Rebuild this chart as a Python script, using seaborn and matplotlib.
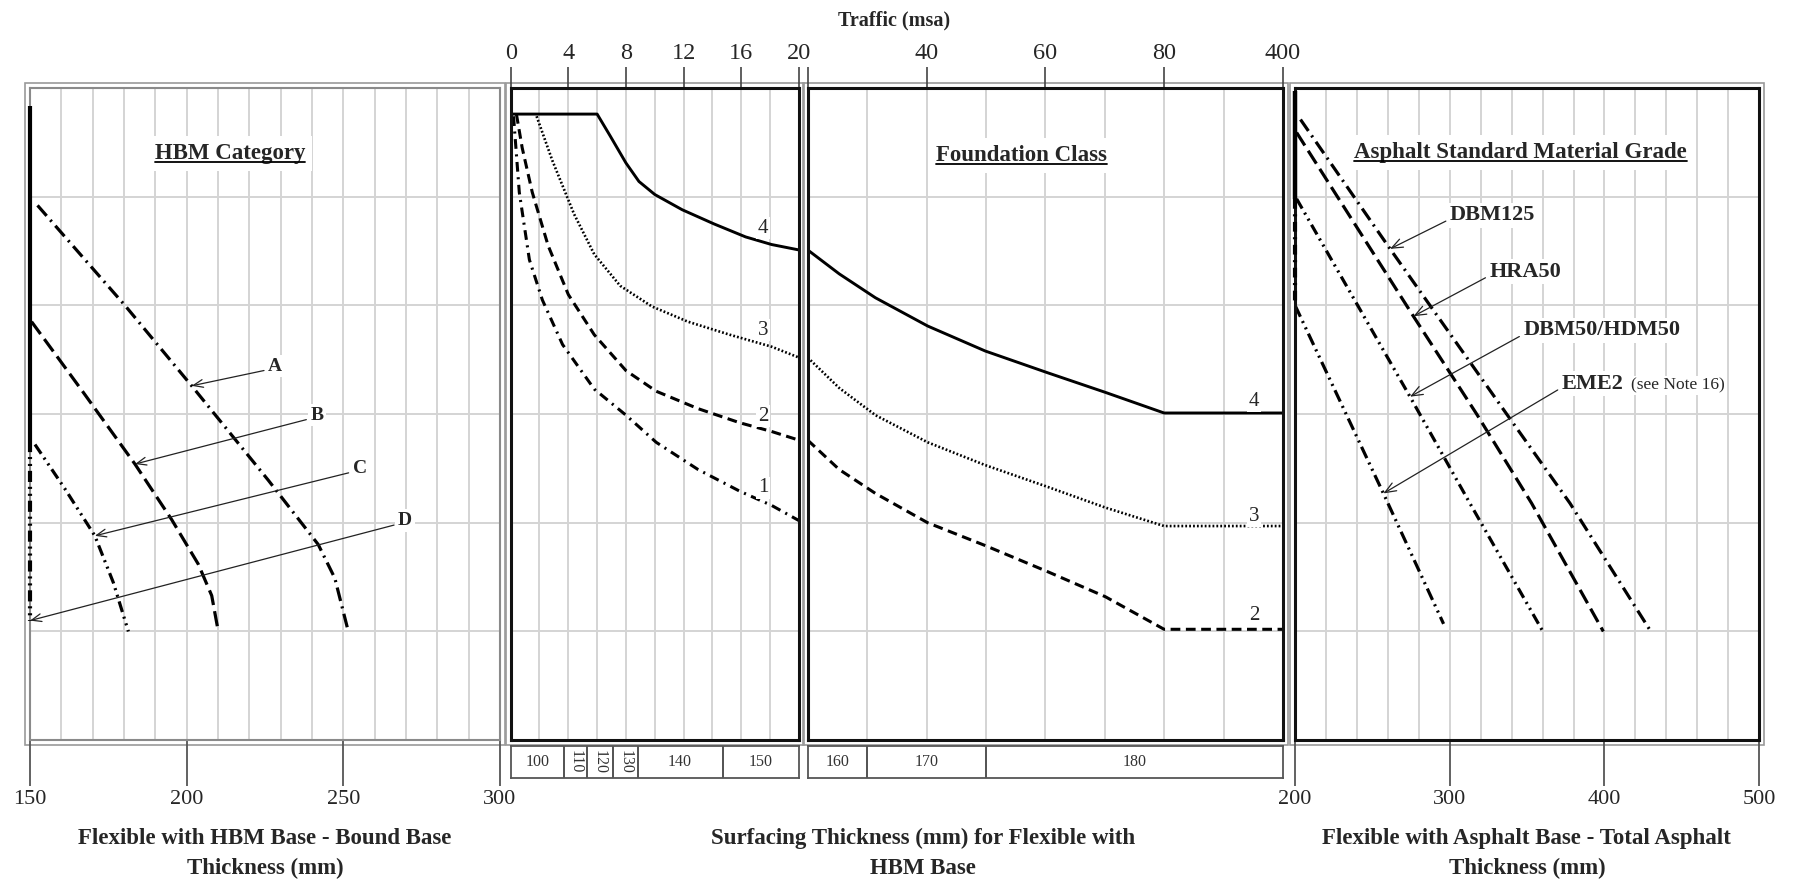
import numpy as np
import matplotlib
matplotlib.use("Agg")
import matplotlib.pyplot as plt
import seaborn as sns
from matplotlib.patches import Rectangle
from matplotlib.lines import Line2D
import matplotlib.transforms as mtransforms

# ---------------- data ----------------
# Panel 1 - Flexible with HBM base: bound base thickness (mm) against chart level
hbm_a_mm = [152.4, 180.3, 201.6, 226.1, 242.0, 247.3, 251.6]
hbm_a_lv = [4.92, 4.00, 3.26, 2.39, 1.80, 1.49, 1.00]
hbm_b_mm = [150.5, 166.5, 183.5, 195.2, 203.7, 208.0, 210.1]
hbm_b_lv = [3.85, 3.22, 2.54, 2.03, 1.62, 1.33, 1.00]
hbm_c_mm = [151.6, 161.2, 170.7, 176.6, 181.4]
hbm_c_lv = [2.72, 2.31, 1.88, 1.45, 1.00]
hbm_min_mm = [150.0, 150.0]
hbm_min_solid_lv = [5.83, 2.75]
hbm_min_dash_lv = [2.75, 1.10]
hbm_labels = ["A", "B", "C", "D"]
hbm_label_mm = [226.0, 239.5, 253.0, 267.5]
hbm_label_lv = [3.44, 2.99, 2.50, 2.02]
hbm_tip_mm = [201.6, 183.5, 170.7, 150.0]
hbm_tip_lv = [3.26, 2.54, 1.88, 1.10]

# Panels 2/3 - foundation classes: traffic (msa) against chart level
fc4_t = [0.0, 6.0, 6.9, 8.0, 8.9, 10.0, 11.9, 14.1, 16.3, 18.1, 20.0,
         25.3, 31.4, 40.2, 49.9, 60.4, 70.1, 80.0, 400.0]
fc4_lv = [5.76, 5.76, 5.56, 5.31, 5.14, 5.02, 4.88, 4.75, 4.63, 4.56, 4.51,
          4.29, 4.07, 3.81, 3.58, 3.38, 3.20, 3.01, 3.01]
fc3_t = [1.8, 2.9, 4.4, 5.8, 7.6, 9.8, 12.3, 15.2, 18.1, 20.0,
         25.3, 31.4, 40.2, 49.9, 60.4, 70.1, 80.0, 400.0]
fc3_lv = [5.74, 5.33, 4.84, 4.47, 4.18, 3.99, 3.85, 3.73, 3.62, 3.52,
          3.24, 2.99, 2.74, 2.53, 2.33, 2.14, 1.97, 1.97]
fc2_t = [0.4, 0.8, 1.5, 2.6, 4.0, 5.8, 8.0, 10.1, 13.0, 15.9, 18.1, 20.0,
         25.3, 31.4, 40.2, 49.9, 60.4, 70.1, 80.0, 400.0]
fc2_lv = [5.76, 5.45, 5.04, 4.55, 4.10, 3.73, 3.40, 3.21, 3.05, 2.92, 2.84, 2.76,
          2.49, 2.27, 2.00, 1.79, 1.55, 1.32, 1.02, 1.02]
fc1_t = [0.2, 0.6, 1.3, 2.2, 3.6, 5.8, 8.0, 10.1, 13.0, 15.9, 18.1, 20.0]
fc1_lv = [5.74, 5.04, 4.42, 4.05, 3.64, 3.23, 2.99, 2.74, 2.49, 2.29, 2.16, 2.02]
fc_names = ["1", "2", "3", "4"]
fc_name_lv_low = [2.32, 2.98, 3.77, 4.71]
fc_name_lv_high = [None, 1.15, 2.06, 3.12]

# surfacing thickness bands (traffic boundaries, msa)
surf_bounds_lo = [0.0, 3.7, 5.3, 7.1, 8.8, 14.7, 20.0]
surf_labels_lo = ["100", "110", "120", "130", "140", "150"]
surf_bounds_hi = [20.0, 30.0, 50.0, 400.0]
surf_labels_hi = ["160", "170", "180"]

# Panel 4 - Flexible with asphalt base: total asphalt thickness (mm)
dbm125_mm = [203.5, 261.4, 336.8, 377.7, 430.0]
dbm125_lv = [5.71, 4.52, 3.00, 2.18, 1.00]
hra50_mm = [201.0, 276.5, 317.4, 352.9, 399.3]
hra50_lv = [5.59, 3.90, 3.00, 2.18, 1.00]
dbm50_mm = [201.0, 274.3, 313.0, 360.2]
dbm50_lv = [4.98, 3.16, 2.18, 1.00]
eme2_mm = [200.0, 257.1, 296.0]
eme2_lv = [4.00, 2.27, 1.07]
asp_min_mm = [200.0, 200.0]
asp_min_solid_lv = [5.97, 4.98]
asp_min_dash_lv = [4.98, 4.00]
asp_labels = ["DBM125", "HRA50", "DBM50/HDM50", "EME2"]
asp_label_mm = [300.0, 325.6, 347.5, 372.3]
asp_label_lv = [4.83, 4.31, 3.77, 3.28]
asp_tip_mm = [261.4, 276.5, 274.3, 257.1]
asp_tip_lv = [4.52, 3.90, 3.16, 2.27]
asp_note = "(see Note 16)"

hbm_ticks = [150, 200, 250, 300]
asp_ticks = [200, 300, 400, 500]
traffic_ticks_lo = [0, 4, 8, 12, 16, 20]
traffic_ticks_hi = [20, 40, 60, 80, 400]
traffic_grid_hi = [30, 40, 50, 60, 70, 80, 179]
levels = [1, 2, 3, 4, 5]

# ---------------- style ----------------
sns.set_theme(style="white")
plt.rcParams["font.family"] = ["Liberation Serif", "DejaVu Serif"]
plt.rcParams["lines.scale_dashes"] = False

GRID = "#d4d4d4"
SOLID = "-"
DOTTED = (0, (1.3, 1.5))
DASHED = (0, (7, 4))
DASHDOT = (0, (7, 4, 1.5, 4))
LONGDASHDOT = (0, (10, 4, 1.5, 4))
LONGDASH = (0, (11, 4.5))
DASHDOTDOT = (0, (8, 3.5, 1.5, 3.5, 1.5, 3.5))


def fwd(t):
    t = np.asarray(t, dtype=float)
    with np.errstate(divide="ignore", invalid="ignore"):
        hi = 6 + 2 * np.log(np.clip(t, 1e-9, None) / 80.0) / np.log(5.0)
    return np.where(t <= 80, (t - 20) / 10.0, hi)


def inv(p):
    p = np.asarray(p, dtype=float)
    with np.errstate(over="ignore"):
        hi = 80.0 * np.power(5.0, np.clip((p - 6) / 2.0, -50, 50))
    return np.where(p <= 6, 20 + 10 * p, hi)


def draw(ax, x, y, ls, lw=2.0, clip=True):
    sns.lineplot(x=list(x), y=list(y), ax=ax, color="black", linewidth=lw,
                 estimator=None, sort=False, legend=False)
    ln = ax.lines[-1]
    ln.set_linestyle(ls)
    ln.set_dash_capstyle("butt")
    ln.set_solid_capstyle("butt")
    ln.set_clip_on(clip)
    if not clip:
        ln.set_zorder(3)


fig = plt.figure(figsize=(17.93, 8.80), dpi=100)
Y0, YH = 0.1589, 0.7411
ax1 = fig.add_axes([0.01673, Y0, 0.2621, YH])
ax2 = fig.add_axes([0.2848, Y0, 0.1608, YH])
ax3 = fig.add_axes([0.4505, Y0, 0.2650, YH])
ax4 = fig.add_axes([0.7223, Y0, 0.2588, YH])
ax3.set_xscale("function", functions=(fwd, inv))

W, H = fig.get_size_inches() * fig.dpi


def outer_frame(ax, pad=5, color="#9a9a9a", lw=1.2):
    bb = ax.get_position()
    px, py = pad / W, pad / H
    fig.add_artist(Rectangle((bb.x0 - px, bb.y0 - py), bb.width + 2 * px,
                             bb.height + 2 * py, transform=fig.transFigure,
                             fill=False, ec=color, lw=lw, zorder=0))


def base_axis(ax, xlim, vgrid, spine_color, spine_lw):
    ax.set_xlim(*xlim)
    ax.set_ylim(0, 6)
    ax.set_yticks([])
    for v in vgrid:
        ax.axvline(v, color=GRID, lw=1.4, zorder=0)
    for h in levels:
        ax.axhline(h, color=GRID, lw=1.4, zorder=0)
    for s in ax.spines.values():
        s.set_visible(True)
        s.set_color(spine_color)
        s.set_linewidth(spine_lw)
    ax.set_xlabel("")
    ax.set_ylabel("")


base_axis(ax1, (150, 300), np.arange(160, 300, 10), "#8a8a8a", 1.5)
base_axis(ax2, (0, 20), np.arange(2, 20, 2), "#111111", 2.2)
base_axis(ax3, (20, 400), traffic_grid_hi, "#111111", 2.2)
base_axis(ax4, (200, 500), np.arange(220, 500, 20), "#111111", 2.2)
for a in (ax1, ax2, ax3, ax4):
    outer_frame(a)

arrow_kw = dict(arrowstyle="->,head_length=0.5,head_width=0.2", lw=0.9,
                color="#222222", shrinkA=1, shrinkB=0, relpos=(0, 0.3))

# ---- panel 1 ----
draw(ax1, hbm_min_mm, hbm_min_solid_lv, SOLID, 3.0, clip=False)
draw(ax1, hbm_min_mm, hbm_min_dash_lv, DASHDOTDOT, 3.0, clip=False)
draw(ax1, hbm_a_mm, hbm_a_lv, LONGDASHDOT, 2.3)
draw(ax1, hbm_b_mm, hbm_b_lv, LONGDASH, 2.3)
draw(ax1, hbm_c_mm, hbm_c_lv, DASHDOTDOT, 2.3)
for lab, lx, ly, tx, ty in zip(hbm_labels, hbm_label_mm, hbm_label_lv, hbm_tip_mm, hbm_tip_lv):
    ax1.annotate(lab, xy=(tx, ty), xytext=(lx, ly), ha="left", va="center",
                 fontsize=14, fontweight="bold", arrowprops=arrow_kw,
                 bbox=dict(fc="white", ec="none", pad=2))
t1 = ax1.text(213.8, 5.40, "HBM Category", ha="center", va="center", fontsize=16.5,
              fontweight="bold", bbox=dict(fc="white", ec="none", pad=5), zorder=5)
ax1.set_xticks(hbm_ticks)
ax1.set_xticklabels([str(v) for v in hbm_ticks])
ax1.tick_params(axis="x", bottom=True, top=False, direction="out", length=33,
                width=1.3, color="#555555", labelsize=16, pad=3)

# ---- panels 2 and 3 ----
fc_series = [(fc1_t, fc1_lv, DASHDOT, 2.2), (fc2_t, fc2_lv, DASHED, 2.2),
             (fc3_t, fc3_lv, DOTTED, 1.9), (fc4_t, fc4_lv, SOLID, 2.1)]
for t, lv, ls, lw in fc_series:
    t = np.asarray(t)
    lv = np.asarray(lv)
    lo = t <= 20
    hi = t >= 20
    draw(ax2, t[lo], lv[lo], ls, lw)
    if hi.sum() >= 2:
        draw(ax3, t[hi], lv[hi], ls, lw)
for name, ylo, yhi in zip(fc_names, fc_name_lv_low, fc_name_lv_high):
    ax2.text(17.5, ylo, name, ha="center", va="center", fontsize=15,
             bbox=dict(fc="white", ec="none", pad=1))
    if yhi is not None:
        ax3.text(270, yhi, name, ha="center", va="center", fontsize=15,
                 bbox=dict(fc="white", ec="none", pad=1))
t3 = ax3.text(float(inv(3.6)), 5.38, "Foundation Class", ha="center", va="center",
              fontsize=16.5, fontweight="bold",
              bbox=dict(fc="white", ec="none", pad=5), zorder=5)

for a, ticks, labels in ((ax2, traffic_ticks_lo, [str(v) for v in traffic_ticks_lo]),
                         (ax3, traffic_ticks_hi, [""] + [str(v) for v in traffic_ticks_hi[1:]])):
    a.xaxis.set_ticks_position("top")
    a.set_xticks(ticks)
    a.set_xticklabels(labels)
    a.tick_params(axis="x", top=True, bottom=False, labeltop=True, labelbottom=False,
                  direction="out", length=15, width=1.2, color="#444444",
                  labelsize=17.5, pad=2)
    a.minorticks_off()

# surfacing thickness table
tab2 = fig.add_axes([0.2848, 0.1159, 0.1608, 0.0364])
tab3 = fig.add_axes([0.4505, 0.1159, 0.2650, 0.0364])
tab3.set_xscale("function", functions=(fwd, inv))
for tab, bounds, labels in ((tab2, surf_bounds_lo, surf_labels_lo),
                            (tab3, surf_bounds_hi, surf_labels_hi)):
    tab.set_xlim(bounds[0], bounds[-1])
    tab.set_ylim(0, 1)
    tab.set_xticks([])
    tab.set_yticks([])
    tab.minorticks_off()
    for s in tab.spines.values():
        s.set_visible(True)
        s.set_color("#555555")
        s.set_linewidth(1.3)
    for b in bounds[1:-1]:
        tab.axvline(b, color="#444444", lw=1.3)
    for a_, b_, lab in zip(bounds[:-1], bounds[1:], labels):
        mid = float(inv((fwd(a_) + fwd(b_)) / 2.0))
        narrow = (fwd(b_) - fwd(a_)) * 10 < 2.5 if tab is tab3 else (b_ - a_) < 2.5
        tab.text(mid, 0.5, lab, ha="center", va="center", fontsize=11.5,
                 color="#333333", rotation=270 if narrow else 0)

# ---- panel 4 ----
draw(ax4, asp_min_mm, asp_min_solid_lv, SOLID, 3.2, clip=False)
draw(ax4, asp_min_mm, asp_min_dash_lv, DASHDOT, 3.0, clip=False)
draw(ax4, dbm125_mm, dbm125_lv, LONGDASHDOT, 2.3)
draw(ax4, hra50_mm, hra50_lv, LONGDASH, 2.3)
draw(ax4, dbm50_mm, dbm50_lv, DASHDOTDOT, 2.3)
draw(ax4, eme2_mm, eme2_lv, (0, (9, 3.5, 1.5, 3.5, 1.5, 3.5)), 2.3)
for lab, lx, ly, tx, ty in zip(asp_labels, asp_label_mm, asp_label_lv, asp_tip_mm, asp_tip_lv):
    ax4.annotate(lab, xy=(tx, ty), xytext=(lx, ly), ha="left", va="center",
                 fontsize=16, fontweight="bold", arrowprops=arrow_kw,
                 bbox=dict(fc="white", ec="none", pad=2))
ax4.text(417.0, 3.265, asp_note, ha="left", va="center", fontsize=12.5,
         bbox=dict(fc="white", ec="none", pad=1))
t4 = ax4.text(345.6, 5.41, "Asphalt Standard Material Grade", ha="center", va="center",
              fontsize=16.5, fontweight="bold",
              bbox=dict(fc="white", ec="none", pad=5), zorder=5)
ax4.set_xticks(asp_ticks)
ax4.set_xticklabels([str(v) for v in asp_ticks])
ax4.tick_params(axis="x", bottom=True, top=False, direction="out", length=33,
                width=1.3, color="#555555", labelsize=16, pad=3)

# ---- figure texts ----
fig.text(0.4987, 0.977, "Traffic (msa)", ha="center", va="center", fontsize=14.5,
         fontweight="bold")
xl = dict(ha="center", va="center", fontsize=16.5, fontweight="bold")
fig.text(0.1478, 0.047, "Flexible with HBM Base - Bound Base", **xl)
fig.text(0.1478, 0.013, "Thickness (mm)", **xl)
fig.text(0.515, 0.047, "Surfacing Thickness (mm) for Flexible with", **xl)
fig.text(0.515, 0.013, "HBM Base", **xl)
fig.text(0.8516, 0.047, "Flexible with Asphalt Base - Total Asphalt", **xl)
fig.text(0.8516, 0.013, "Thickness (mm)", **xl)

# underline panel titles
fig.canvas.draw()
renderer = fig.canvas.get_renderer()
for t in (t1, t3, t4):
    bb = t.get_window_extent(renderer=renderer)
    fig.add_artist(Line2D([bb.x0, bb.x1], [bb.y0 + 1.5, bb.y0 + 1.5], color="black",
                          lw=1.3, transform=mtransforms.IdentityTransform(), zorder=10))

fig.savefig("out.png", dpi=100)
